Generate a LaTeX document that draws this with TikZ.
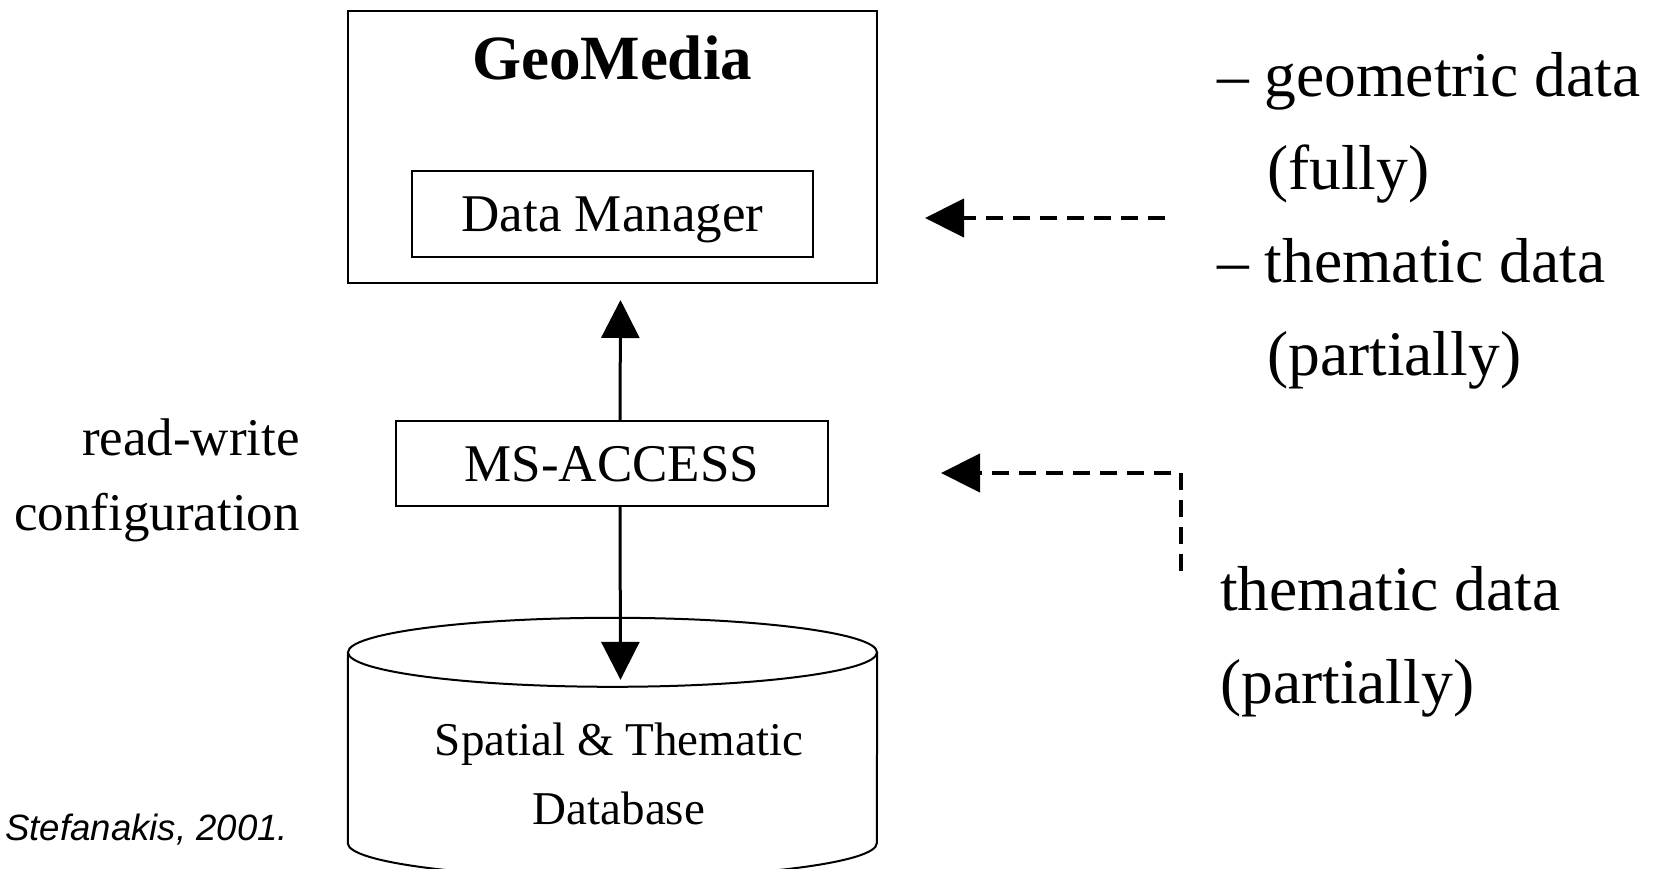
\documentclass[tikz,border=0pt]{standalone}
\usepackage{fontspec}
\setmainfont{Liberation Serif}
\newfontfamily\arialfont{Liberation Sans}
\usetikzlibrary{arrows.meta}
\tikzset{
  boxnode/.style={draw, line width=2pt, inner sep=0pt},
  solidarrow/.style={line width=3pt, -{Triangle[length=38pt,width=38pt]}},
  dasharrow/.style={line width=4.5pt, dash pattern=on 17pt off 10pt, -{Triangle[length=39pt,width=38pt]}},
  txt/.style={inner sep=0pt, font=\fontsize{53pt}{75pt}\selectfont},
  bigtxt/.style={inner sep=0pt, font=\fontsize{63.5pt}{93pt}\selectfont},
}
\begin{document}
\begin{tikzpicture}[x=1pt,y=-1pt]
\useasboundingbox (0,0) rectangle (1653,869);
% GeoMedia box
\node[boxnode, minimum width=529pt, minimum height=272pt] (gm) at (612.5,147) {};
\node[inner sep=0pt, anchor=base, font=\fontsize{63pt}{70pt}\selectfont\bfseries] (gmt) at (612,80) {GeoMedia};
\node[boxnode, txt, minimum width=401pt, minimum height=86pt, text height=35pt, text depth=0pt] (dm) at (612.5,214) {Data Manager};
% MS-ACCESS
\node[boxnode, txt, minimum width=432pt, minimum height=85pt, text height=35pt, text depth=0pt] (ms) at (612,463.5) {MS-ACCESS};
% database cylinder
\node[inner sep=0pt, minimum width=529pt, minimum height=190.5pt] (db) at (612.5,747.75) {};
\draw[line width=2pt] (db.north) ellipse [x radius=264.5pt, y radius=34.5pt];
\draw[line width=2pt] (db.north west) -- (db.south west)
  arc[start angle=180, end angle=360, x radius=264.5pt, y radius=34.5pt] -- (db.north east);
\node[inner sep=0pt, anchor=base, align=center, font=\fontsize{47pt}{69pt}\selectfont] (dbt) at (619,824) {Spatial \& Thematic\\Database};
% solid arrows
\draw[solidarrow] ([xshift=8pt]ms.north) -- ([xshift=8pt,yshift=-16pt]gm.south);
\draw[solidarrow] ([xshift=8pt]ms.south) -- ([xshift=8pt,yshift=-27.5pt]db.north);
% left label
\node[txt, anchor=base east, align=right] (rw) at (300,530) {read-write\\configuration};
% right labels
\node[bigtxt, anchor=base west, align=left] (r1) at (1217,375) {– geometric data\\\hspace*{50pt}(fully)\\– thematic data\\\hspace*{50pt}(partially)};
\node[bigtxt, anchor=base west, align=left] (r2) at (1220,703) {thematic data\\(partially)};
% dashed arrows
\coordinate (s1) at (1165,218);
\coordinate (t1) at (925,218);
\draw[dasharrow] (s1) -- (t1);
\coordinate (s2) at (1181,571);
\coordinate (c2) at (1181,473);
\coordinate (t2) at (941,473);
\draw[dasharrow] (s2) -- (c2) -- (t2);
% credit
\node[inner sep=0pt, anchor=base west, font=\arialfont\itshape\fontsize{36.6pt}{40pt}\selectfont] (cr) at (5,840) {Stefanakis, 2001.};
\end{tikzpicture}
\end{document}
